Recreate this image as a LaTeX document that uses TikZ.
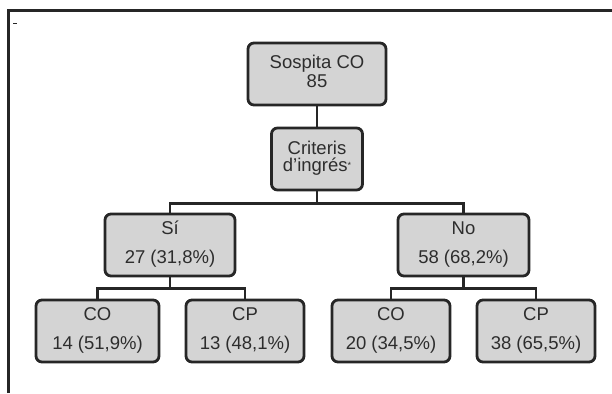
\documentclass[tikz,border=0pt]{standalone}
\usepackage{fontspec}
\setmainfont{Liberation Sans}
\definecolor{boxfill}{RGB}{212,212,212}
\definecolor{boxline}{RGB}{38,38,38}
\definecolor{txt}{RGB}{45,45,45}
\newcommand{\twolines}[3]{\begin{tabular}{@{}c@{}}#2\\[#1]#3\end{tabular}}
\tikzset{
  treebox/.style={draw=boxline, line width=2.8pt, fill=boxfill, rounded corners=6pt,
    minimum height=62pt, inner sep=0pt, text=txt,
    font=\fontsize{18.5}{18.5}\selectfont},
  link/.style={draw=boxline, line width=2.4pt}
}
\begin{document}
\begin{tikzpicture}[x=1pt, y=-1pt]
\useasboundingbox (0,0) rectangle (612,393);
% frame
\draw[boxline, line width=2.4pt] (8.5,393) -- (8.5,10.5) -- (612,10.5);
\draw[boxline, line width=1pt] (13,24) -- (17,24);
% nodes
\node[treebox, minimum width=138pt] (sosp) at (317,74) {\twolines{0pt}{Sospita CO}{85}};
\node[treebox, minimum width=91pt] (crit) at (317,159) {\twolines{-2pt}{Criteris}{d'ingrés\raisebox{3pt}{\fontsize{9}{9}\selectfont*}}};
\node[treebox, minimum width=130pt] (si) at (170,245) {\twolines{10pt}{Sí}{27 (31,8\%)}};
\node[treebox, minimum width=131pt] (no) at (463.5,245) {\twolines{10pt}{No}{58 (68,2\%)}};
\node[treebox, minimum width=123pt] (co1) at (97.5,331) {\twolines{10pt}{CO}{14 (51,9\%)}};
\node[treebox, minimum width=118pt] (cp1) at (245,331) {\twolines{10pt}{CP}{13 (48,1\%)}};
\node[treebox, minimum width=118pt] (co2) at (391,331) {\twolines{10pt}{CO}{20 (34,5\%)}};
\node[treebox, minimum width=118pt] (cp2) at (536,331) {\twolines{10pt}{CP}{38 (65,5\%)}};
% connectors
\draw[link] (sosp.south) -- (crit.north);
\draw[link] (crit.south) -- ++(0,12) -| (si.north);
\draw[link] (crit.south) -- ++(0,12) -| (no.north);
\draw[link] (si.south) -- ++(0,11) -| (co1.north);
\draw[link] (si.south) -- ++(0,11) -| (cp1.north);
\draw[link] (no.south) -- ++(0,11) -| (co2.north);
\draw[link] (no.south) -- ++(0,11) -| (cp2.north);
\end{tikzpicture}
\end{document}
